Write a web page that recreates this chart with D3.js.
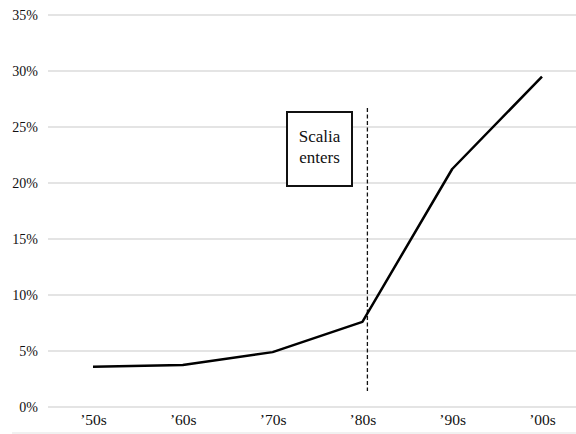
<!DOCTYPE html>
<html><head><meta charset="utf-8">
<script src="https://cdn.jsdelivr.net/npm/d3@7"></script>
<style>body{margin:0;background:#fff}svg{display:block}
.t{font-family:"Liberation Serif";}
</style>
</head><body><svg id="c" width="576" height="434"></svg>
<script>
const categories = ["\u201950s","\u201960s","\u201970s","\u201980s","\u201990s","\u201900s"];
const values = [3.6, 3.75, 4.9, 7.6, 21.25, 29.5];
const yTicks = [0,5,10,15,20,25,30,35];
const annotation = {label:["Scalia","enters"], at:"\u201980s"};

const svg = d3.select("#c");
const x = d3.scalePoint().domain(categories).range([93,542]);
const y = d3.scaleLinear().domain([0,35]).range([407,15]);

svg.selectAll("line.grid").data(yTicks).join("line")
  .attr("x1",48).attr("x2",576)
  .attr("y1",d=>y(d)).attr("y2",d=>y(d))
  .attr("stroke","#e4e4e4").attr("stroke-width",2);

// faint bottom band
svg.append("rect").attr("x",12).attr("y",432).attr("width",564).attr("height",2).attr("fill","#f1f1f1");

const yAxis = d3.axisLeft(y).tickValues(yTicks).tickFormat(d=>d+"%").tickSize(0).tickPadding(0);
svg.append("g").attr("transform","translate(38,0)").call(yAxis)
  .attr("font-family",null).attr("font-size",null).attr("class","t")
  .call(a=>a.select(".domain").remove())
  .selectAll("text").attr("font-size",14).attr("dy","0.35em").attr("fill","#111");

const xAxis = d3.axisBottom(x).tickSize(0).tickPadding(0);
svg.append("g").attr("transform","translate(0,425)").call(xAxis)
  .attr("font-family",null).attr("font-size",null).attr("class","t")
  .call(a=>a.select(".domain").remove())
  .selectAll("text").attr("font-size",15.5).attr("dy","0").attr("y",0).attr("fill","#111");

const ax = x(annotation.at)+5;
svg.append("line").attr("x1",ax).attr("x2",ax).attr("y1",108).attr("y2",391)
  .attr("stroke","#111").attr("stroke-width",1.3).attr("stroke-dasharray","4,2.5");

svg.append("path").datum(values)
  .attr("fill","none").attr("stroke","#000").attr("stroke-width",2.5).attr("stroke-linejoin","round")
  .attr("d", d3.line().x((d,i)=>x(categories[i])).y(d=>y(d)));

svg.append("rect").attr("x",287).attr("y",112).attr("width",65).attr("height",74)
  .attr("fill","#fff").attr("stroke","#111").attr("stroke-width",2);
svg.append("text").attr("class","t").attr("x",319.5).attr("y",142).attr("text-anchor","middle").attr("font-size",17).attr("fill","#111").text(annotation.label[0]);
svg.append("text").attr("class","t").attr("x",319.5).attr("y",163).attr("text-anchor","middle").attr("font-size",17).attr("fill","#111").text(annotation.label[1]);
</script></body></html>
